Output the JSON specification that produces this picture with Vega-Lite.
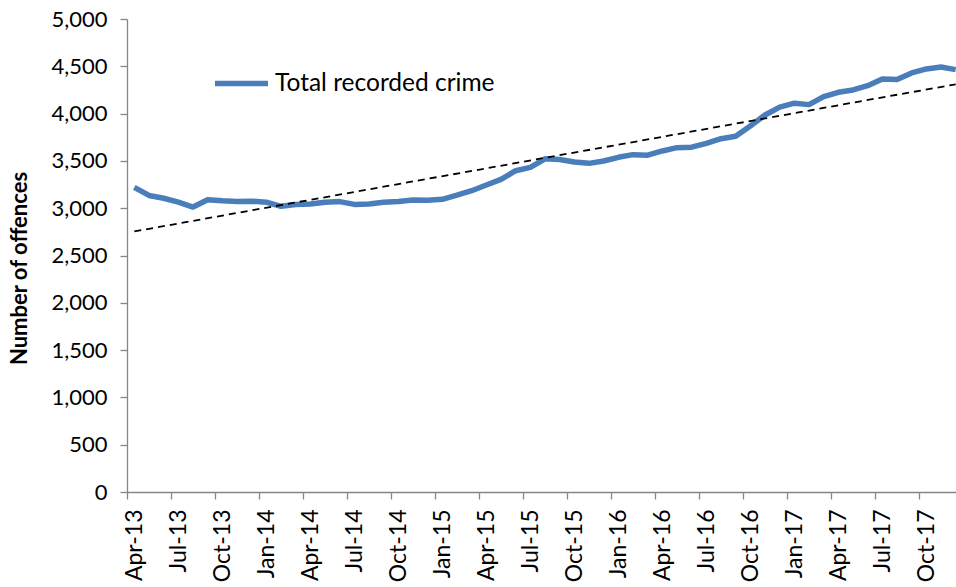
{
  "$schema": "https://vega.github.io/schema/vega-lite/v6.json",
  "width": 829,
  "height": 473,
  "autosize": {"type": "none"},
  "padding": {"left": 127, "top": 19, "right": 0, "bottom": 95},
  "background": "white",
  "config": {
    "view": {"stroke": null},
    "font": "Lato",
    "axis": {
      "domainColor": "#868686",
      "domainWidth": 1.3,
      "tickColor": "#868686",
      "tickWidth": 1.3,
      "tickSize": 7,
      "labelColor": "#000000",
      "labelFontSize": 22,
      "labelFont": "Lato",
      "titleColor": "#000000",
      "grid": false
    }
  },
  "datasets": {
    "crime": [
      {"month": "Apr-13", "value": 3220},
      {"month": "May-13", "value": 3135},
      {"month": "Jun-13", "value": 3105},
      {"month": "Jul-13", "value": 3065},
      {"month": "Aug-13", "value": 3012},
      {"month": "Sep-13", "value": 3090},
      {"month": "Oct-13", "value": 3078},
      {"month": "Nov-13", "value": 3072},
      {"month": "Dec-13", "value": 3074},
      {"month": "Jan-14", "value": 3064},
      {"month": "Feb-14", "value": 3020},
      {"month": "Mar-14", "value": 3040},
      {"month": "Apr-14", "value": 3044},
      {"month": "May-14", "value": 3062},
      {"month": "Jun-14", "value": 3070},
      {"month": "Jul-14", "value": 3040},
      {"month": "Aug-14", "value": 3044},
      {"month": "Sep-14", "value": 3062},
      {"month": "Oct-14", "value": 3070},
      {"month": "Nov-14", "value": 3086},
      {"month": "Dec-14", "value": 3084},
      {"month": "Jan-15", "value": 3094},
      {"month": "Feb-15", "value": 3139},
      {"month": "Mar-15", "value": 3185},
      {"month": "Apr-15", "value": 3245},
      {"month": "May-15", "value": 3305},
      {"month": "Jun-15", "value": 3396},
      {"month": "Jul-15", "value": 3432},
      {"month": "Aug-15", "value": 3522},
      {"month": "Sep-15", "value": 3515},
      {"month": "Oct-15", "value": 3488},
      {"month": "Nov-15", "value": 3474},
      {"month": "Dec-15", "value": 3499},
      {"month": "Jan-16", "value": 3538},
      {"month": "Feb-16", "value": 3566},
      {"month": "Mar-16", "value": 3560},
      {"month": "Apr-16", "value": 3605},
      {"month": "May-16", "value": 3640},
      {"month": "Jun-16", "value": 3645},
      {"month": "Jul-16", "value": 3685},
      {"month": "Aug-16", "value": 3735},
      {"month": "Sep-16", "value": 3760},
      {"month": "Oct-16", "value": 3870},
      {"month": "Nov-16", "value": 3985},
      {"month": "Dec-16", "value": 4068},
      {"month": "Jan-17", "value": 4110},
      {"month": "Feb-17", "value": 4095},
      {"month": "Mar-17", "value": 4180},
      {"month": "Apr-17", "value": 4225},
      {"month": "May-17", "value": 4250},
      {"month": "Jun-17", "value": 4295},
      {"month": "Jul-17", "value": 4365},
      {"month": "Aug-17", "value": 4360},
      {"month": "Sep-17", "value": 4430},
      {"month": "Oct-17", "value": 4472},
      {"month": "Nov-17", "value": 4492},
      {"month": "Dec-17", "value": 4465}
    ],
    "trend": [
      {"month": "Apr-13", "value": 2755},
      {"month": "Dec-17", "value": 4310}
    ]
  },
  "layer": [
    {
      "data": {"name": "crime"},
      "mark": {"type": "line", "strokeWidth": 5.5, "strokeJoin": "round", "strokeCap": "butt"},
      "encoding": {
        "x": {
          "field": "month",
          "type": "ordinal",
          "sort": null,
          "bandPosition": 0.5,
          "scale": {"type": "band", "paddingInner": 0, "paddingOuter": 0, "range": [0, 836]},
          "axis": {
            "title": null,
            "values": ["Apr-13", "Jul-13", "Oct-13", "Jan-14", "Apr-14", "Jul-14", "Oct-14", "Jan-15", "Apr-15", "Jul-15", "Oct-15", "Jan-16", "Apr-16", "Jul-16", "Oct-16", "Jan-17", "Apr-17", "Jul-17", "Oct-17"],
            "labelAngle": -90,
            "labelAlign": "right",
            "labelBaseline": "middle",
            "labelPadding": 10,
            "labelFontSize": 23,
            "tickOffset": -7.33,
            "labelOffset": 7.83
          }
        },
        "y": {
          "field": "value",
          "type": "quantitative",
          "scale": {"domain": [0, 5000]},
          "axis": {
            "title": "Number of offences",
            "values": [0, 500, 1000, 1500, 2000, 2500, 3000, 3500, 4000, 4500, 5000],
            "format": ",.0f",
            "labelPadding": 13,
            "titleFontSize": 22,
            "titleFontWeight": "bold",
            "titleFont": "Lato",
            "titleX": -101,
            "titleY": 249,
            "titleAngle": -90,
            "titleBaseline": "alphabetic",
            "titleAlign": "center"
          }
        },
        "color": {
          "datum": "Total recorded crime",
          "scale": {"range": ["#4a7ebb"]},
          "legend": {
            "title": null,
            "orient": "none",
            "legendX": 85,
            "legendY": 35,
            "padding": 0,
            "symbolType": "stroke",
            "symbolSize": 2809,
            "symbolStrokeWidth": 5.5,
            "labelFontSize": 24.5,
            "labelFont": "Lato",
            "labelColor": "#000000",
            "labelOffset": 4,
            "labelLimit": 0
          }
        }
      }
    },
    {
      "data": {"name": "trend"},
      "mark": {"type": "line", "color": "#000000", "strokeWidth": 1.8, "strokeDash": [7, 5]},
      "encoding": {
        "x": {"field": "month", "type": "ordinal", "sort": null, "bandPosition": 0.5},
        "y": {"field": "value", "type": "quantitative"}
      }
    }
  ]
}
